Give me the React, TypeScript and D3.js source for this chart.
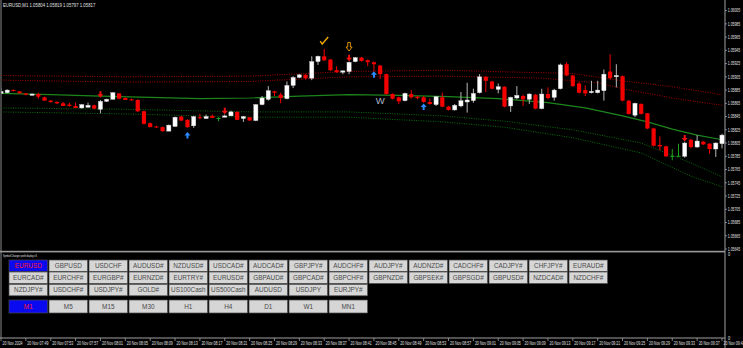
import React from 'react';
import * as d3 from 'd3';

// ---------- DATA ----------
const headerText = 'EURUSD,M1  1.05804 1.05819 1.05797 1.05817';

const opens = [
  1.05880, 1.05881, 1.05885, 1.05883, 1.05880, 1.05877, 1.05879, 1.05874, 1.05869, 1.05867,
  1.05865, 1.05863, 1.05861, 1.05858, 1.05859, 1.05862, 1.05856, 1.05868, 1.05871, 1.05880,
  1.05873, 1.05871, 1.05870, 1.05853, 1.05835, 1.05830, 1.05829, 1.05823, 1.05830, 1.05845,
  1.05840, 1.05831, 1.05844, 1.05842, 1.05846, 1.05842, 1.05844, 1.05846, 1.05852, 1.05842,
  1.05844, 1.05839, 1.05863, 1.05871, 1.05883, 1.05878, 1.05872, 1.05892, 1.05904, 1.05908,
  1.05903, 1.05928, 1.05936, 1.05931, 1.05915, 1.05912, 1.05913, 1.05928, 1.05934, 1.05930,
  1.05927, 1.05922, 1.05909, 1.05879, 1.05874, 1.05869, 1.05879, 1.05875, 1.05874, 1.05867,
  1.05863, 1.05874, 1.05860, 1.05855, 1.05861, 1.05867, 1.05869, 1.05881, 1.05905, 1.05898,
  1.05886, 1.05890, 1.05861, 1.05873, 1.05876, 1.05871, 1.05878, 1.05857, 1.05879, 1.05874,
  1.05887, 1.05924, 1.05907, 1.05895, 1.05885, 1.05881, 1.05881, 1.05884, 1.05913, 1.05905,
  1.05906, 1.05869, 1.05847, 1.05864, 1.05850, 1.05827, 1.05802, 1.05800, 1.05785, 1.05785,
  1.05785, 1.05810, 1.05799, 1.05807, 1.05804, 1.05796, 1.05804,
];
const highs = [
  1.05888, 1.05886, 1.05886, 1.05883, 1.05880, 1.05880, 1.05881, 1.05875, 1.05870, 1.05868,
  1.05867, 1.05866, 1.05866, 1.05864, 1.05866, 1.05863, 1.05870, 1.05872, 1.05882, 1.05880,
  1.05874, 1.05872, 1.05871, 1.05854, 1.05836, 1.05831, 1.05830, 1.05833, 1.05845, 1.05846,
  1.05841, 1.05846, 1.05849, 1.05848, 1.05848, 1.05844, 1.05848, 1.05854, 1.05853, 1.05846,
  1.05844, 1.05864, 1.05876, 1.05891, 1.05884, 1.05881, 1.05898, 1.05906, 1.05909, 1.05909,
  1.05936, 1.05937, 1.05947, 1.05932, 1.05921, 1.05915, 1.05928, 1.05935, 1.05935, 1.05931,
  1.05928, 1.05923, 1.05910, 1.05880, 1.05875, 1.05881, 1.05885, 1.05876, 1.05876, 1.05872,
  1.05876, 1.05881, 1.05861, 1.05864, 1.05882, 1.05896, 1.05887, 1.05909, 1.05906, 1.05899,
  1.05895, 1.05891, 1.05875, 1.05891, 1.05878, 1.05880, 1.05879, 1.05887, 1.05889, 1.05887,
  1.05925, 1.05927, 1.05908, 1.05897, 1.05892, 1.05899, 1.05899, 1.05916, 1.05939, 1.05924,
  1.05907, 1.05870, 1.05866, 1.05865, 1.05850, 1.05828, 1.05815, 1.05801, 1.05796, 1.05804,
  1.05807, 1.05811, 1.05817, 1.05808, 1.05805, 1.05806, 1.05819,
];
const lows = [
  1.05879, 1.05880, 1.05883, 1.05880, 1.05877, 1.05877, 1.05872, 1.05869, 1.05866, 1.05864,
  1.05861, 1.05860, 1.05858, 1.05857, 1.05859, 1.05856, 1.05850, 1.05867, 1.05871, 1.05871,
  1.05870, 1.05869, 1.05852, 1.05833, 1.05829, 1.05828, 1.05822, 1.05823, 1.05830, 1.05838,
  1.05828, 1.05828, 1.05841, 1.05842, 1.05843, 1.05838, 1.05844, 1.05846, 1.05840, 1.05837,
  1.05839, 1.05838, 1.05862, 1.05869, 1.05876, 1.05865, 1.05871, 1.05888, 1.05903, 1.05901,
  1.05900, 1.05923, 1.05929, 1.05914, 1.05911, 1.05909, 1.05909, 1.05927, 1.05928, 1.05921,
  1.05913, 1.05902, 1.05878, 1.05871, 1.05864, 1.05868, 1.05872, 1.05871, 1.05866, 1.05863,
  1.05861, 1.05859, 1.05854, 1.05854, 1.05859, 1.05851, 1.05866, 1.05880, 1.05882, 1.05886,
  1.05880, 1.05859, 1.05852, 1.05871, 1.05861, 1.05864, 1.05856, 1.05856, 1.05871, 1.05869,
  1.05886, 1.05906, 1.05890, 1.05880, 1.05876, 1.05880, 1.05880, 1.05869, 1.05901, 1.05889,
  1.05868, 1.05848, 1.05844, 1.05848, 1.05826, 1.05800, 1.05794, 1.05784, 1.05779, 1.05785,
  1.05783, 1.05797, 1.05798, 1.05802, 1.05789, 1.05784, 1.05797,
];
const closes = [
  1.05883, 1.05885, 1.05884, 1.05880, 1.05878, 1.05879, 1.05875, 1.05869, 1.05867, 1.05865,
  1.05861, 1.05861, 1.05858, 1.05863, 1.05862, 1.05857, 1.05868, 1.05871, 1.05881, 1.05872,
  1.05870, 1.05870, 1.05853, 1.05834, 1.05829, 1.05829, 1.05823, 1.05832, 1.05844, 1.05839,
  1.05829, 1.05845, 1.05843, 1.05845, 1.05843, 1.05842, 1.05846, 1.05852, 1.05840, 1.05845,
  1.05839, 1.05863, 1.05873, 1.05884, 1.05881, 1.05873, 1.05892, 1.05904, 1.05908, 1.05903,
  1.05928, 1.05936, 1.05930, 1.05915, 1.05912, 1.05914, 1.05927, 1.05934, 1.05929, 1.05927,
  1.05924, 1.05909, 1.05879, 1.05872, 1.05868, 1.05880, 1.05874, 1.05873, 1.05867, 1.05864,
  1.05875, 1.05860, 1.05855, 1.05862, 1.05869, 1.05870, 1.05880, 1.05905, 1.05899, 1.05887,
  1.05890, 1.05860, 1.05874, 1.05877, 1.05871, 1.05879, 1.05857, 1.05879, 1.05873, 1.05885,
  1.05923, 1.05907, 1.05891, 1.05881, 1.05880, 1.05883, 1.05885, 1.05909, 1.05903, 1.05907,
  1.05869, 1.05849, 1.05865, 1.05849, 1.05827, 1.05801, 1.05800, 1.05785, 1.05785, 1.05785,
  1.05805, 1.05799, 1.05808, 1.05803, 1.05796, 1.05805, 1.05817,
];

// moving average (solid green) and envelope bands
const maBars = [0, 8, 16, 24, 32, 40, 48, 56, 64, 72, 80, 88, 94, 100, 104, 108, 112, 116];
const maVals = [1.05880, 1.05878, 1.05876, 1.05874, 1.05872, 1.05873, 1.05876, 1.05878, 1.05877, 1.05875, 1.05872, 1.05866, 1.05858, 1.05846, 1.05837, 1.05826, 1.05817, 1.05810];
const redUpperBars = [0, 20, 40, 56, 71, 92, 100, 108, 116];
const redUpperVals = [1.05907, 1.05905, 1.05906, 1.05913, 1.05915, 1.05910, 1.05899, 1.05890, 1.05878];
const redLowerBars = [0, 20, 40, 56, 71, 87, 96, 100, 108, 116];
const redLowerVals = [1.05900, 1.05897, 1.05898, 1.05905, 1.05906, 1.05903, 1.05896, 1.05887, 1.05873, 1.05862];
const greenUpperBars = [0, 20, 40, 56, 71, 81, 92, 103, 111, 116];
const greenUpperVals = [1.05858, 1.05856, 1.05852, 1.05852, 1.05846, 1.05838, 1.05825, 1.05805, 1.05775, 1.05754];
const greenLowerBars = [0, 20, 40, 56, 71, 81, 92, 103, 111, 116];
const greenLowerVals = [1.05852, 1.05849, 1.05844, 1.05844, 1.05837, 1.05829, 1.05813, 1.05790, 1.05755, 1.05739];

// signals
const sellBars = [16, 36, 56, 110];
const sellVals = [1.05878, 1.05853, 1.05933, 1.05812];
const buyBars = [30, 60, 68];
const buyVals = [1.05817, 1.05909, 1.05860];
const checkBar = 52, checkVal = 1.05959;
const hollowBar = 56, hollowVal = 1.05950;
const wBar = 61, wVal = 1.05869;

const priceTicks = [1.06005, 1.05985, 1.05965, 1.05945, 1.05925, 1.05905, 1.05885, 1.05865, 1.05845, 1.05825,
  1.05805, 1.05785, 1.05765, 1.05745, 1.05725, 1.05705, 1.05685, 1.05665, 1.05645];
const timeLabels = ['20 Nov 2024', '20 Nov 07:49', '20 Nov 07:53', '20 Nov 07:57', '20 Nov 08:01', '20 Nov 08:05',
  '20 Nov 08:09', '20 Nov 08:13', '20 Nov 08:17', '20 Nov 08:21', '20 Nov 08:25', '20 Nov 08:29', '20 Nov 08:33',
  '20 Nov 08:37', '20 Nov 08:41', '20 Nov 08:45', '20 Nov 08:49', '20 Nov 08:53', '20 Nov 08:57', '20 Nov 09:01',
  '20 Nov 09:05', '20 Nov 09:09', '20 Nov 09:13', '20 Nov 09:17', '20 Nov 09:21', '20 Nov 09:25', '20 Nov 09:29',
  '20 Nov 09:33', '20 Nov 09:37', '20 Nov 09:41'];
const timeLabelBars = timeLabels.map((_, k) => k * 4);

const symbolRow1 = ['EURUSD', 'GBPUSD', 'USDCHF', 'AUDUSD#', 'NZDUSD#', 'USDCAD#', 'AUDCAD#', 'GBPJPY#', 'AUDCHF#', 'AUDJPY#', 'AUDNZD#', 'CADCHF#', 'CADJPY#', 'CHFJPY#', 'EURAUD#'];
const symbolRow2 = ['EURCAD#', 'EURCHF#', 'EURGBP#', 'EURNZD#', 'EURTRY#', 'EURUSD#', 'GBPAUD#', 'GBPCAD#', 'GBPCHF#', 'GBPNZD#', 'GBPSEK#', 'GBPSGD#', 'GBPUSD#', 'NZDCAD#', 'NZDCHF#'];
const symbolRow3 = ['NZDJPY#', 'USDCHF#', 'USDJPY#', 'GOLD#', 'US100Cash', 'US500Cash', 'AUDUSD', 'USDJPY', 'EURJPY#'];
const timeframes = ['M1', 'M5', 'M15', 'M30', 'H1', 'H4', 'D1', 'W1', 'MN1'];
const activeSymbol = 'EURUSD';
const activeTf = 'M1';

// ---------- LAYOUT ----------
const W = 743, H = 348;
const AXIS_X = 725;
const SEP_Y = 251.5;
const BOTTOM_Y = 338;
const FONT = '"Liberation Sans", Arial, sans-serif';

const x = d3.scaleLinear().domain([0, 116]).range([1, 722]);
const y = d3.scaleLinear().domain([1.06005, 1.05645]).range([10.6, 249]);

function bandPath(bars: number[], vals: number[]) {
  const line = d3.line<number>().x((_, i) => x(bars[i])).y((v) => y(v));
  return line(vals) || '';
}

// horizontally condensed small text (MT4 uses a narrow tiny font)
function NarrowText({ tx, ty, size, sx, children }: { tx: number; ty: number; size: number; sx: number; children: string }) {
  return (
    <text transform={`translate(${tx},${ty}) scale(${sx},1)`} fontFamily={FONT} fontSize={size} fill="#e0e0e0">{children}</text>
  );
}

function Button({ bx, by, w, h, label, active }: { bx: number; by: number; w: number; h: number; label: string; active: boolean }) {
  return (
    <g>
      <rect x={bx} y={by} width={w} height={h} fill={active ? '#0a0af0' : '#d6d6d6'} stroke="#4a4a4a" strokeWidth={0.7} />
      <text x={bx + w / 2} y={by + h / 2 + 2.2} textAnchor="middle" fontFamily={FONT} fontSize={6.4}
        fill={active ? '#ff1a1a' : '#4a4a4a'}>{label}</text>
    </g>
  );
}

export default function App() {
  const bw = 4.2;
  const candles = opens.map((o, i) => {
    const c = closes[i], hi = highs[i], lo = lows[i];
    const cx = x(i);
    const doji = o === c;
    const bull = c > o;
    const col = doji ? '#1fa51f' : bull ? '#b8b8b8' : '#f50000';
    const top = y(Math.max(o, c)), bot = y(Math.min(o, c));
    return (
      <g key={i}>
        <line x1={cx} x2={cx} y1={y(hi)} y2={y(lo)} stroke={col} strokeWidth={1} />
        {doji ? (
          <line x1={cx - bw / 2} x2={cx + bw / 2} y1={top} y2={top} stroke={col} strokeWidth={1} />
        ) : (
          <rect x={cx - bw / 2} y={top} width={bw} height={Math.max(1, bot - top)}
            fill={bull ? '#ffffff' : '#f50000'} stroke={bull ? '#cfcfcf' : 'none'} strokeWidth={0.4} />
        )}
      </g>
    );
  });

  const bw2 = 38.6, pitch = 40, bx0 = 9;
  const rowsY = [260, 272, 284.3];
  const rowH = 11.5;

  return (
    <div style={{ position: 'fixed', left: 0, top: 0, width: W, height: H, background: '#000' }}>
      <svg width={W} height={H} style={{ display: 'block' }}>
        <rect x={0} y={0} width={W} height={H} fill="#000" />
        <defs>
          <clipPath id="plot"><rect x={1.5} y={0} width={AXIS_X - 1.5} height={SEP_Y} /></clipPath>
        </defs>

        {/* frame */}
        <line x1={1} x2={1} y1={0} y2={BOTTOM_Y} stroke="#8a8a8a" strokeWidth={1} />
        <line x1={AXIS_X} x2={AXIS_X} y1={0} y2={H} stroke="#a0a0a0" strokeWidth={1} />
        <line x1={0} x2={AXIS_X} y1={BOTTOM_Y} y2={BOTTOM_Y} stroke="#a0a0a0" strokeWidth={1} />
        <rect x={0} y={SEP_Y - 0.7} width={AXIS_X} height={1.6} fill="#9a9a9a" />

        <NarrowText tx={3} ty={7} size={4.8} sx={0.9}>{headerText}</NarrowText>

        <g clipPath="url(#plot)">
          <path d={bandPath(redUpperBars, redUpperVals)} fill="none" stroke="#a30000" strokeWidth={1} strokeDasharray="1 1.4" />
          <path d={bandPath(redLowerBars, redLowerVals)} fill="none" stroke="#a30000" strokeWidth={1} strokeDasharray="1 1.4" />
          <path d={bandPath(greenUpperBars, greenUpperVals)} fill="none" stroke="#0a6e0a" strokeWidth={1} strokeDasharray="1 1.4" />
          <path d={bandPath(greenLowerBars, greenLowerVals)} fill="none" stroke="#0a6e0a" strokeWidth={1} strokeDasharray="1 1.4" />
          <path d={bandPath(maBars, maVals)} fill="none" stroke="#1c861c" strokeWidth={1.2} />
          {candles}

          {sellBars.map((b, i) => {
            const cx = x(b), cy = y(sellVals[i]);
            return <polygon key={'s' + i} fill="#f01010"
              points={`${cx - 1},${cy - 3.5} ${cx + 1},${cy - 3.5} ${cx + 1},${cy - 0.5} ${cx + 3},${cy - 0.5} ${cx},${cy + 3} ${cx - 3},${cy - 0.5} ${cx - 1},${cy - 0.5}`} />;
          })}
          {buyBars.map((b, i) => {
            const cx = x(b), cy = y(buyVals[i]);
            return <polygon key={'b' + i} fill="#2a8cff"
              points={`${cx - 1},${cy + 3.5} ${cx + 1},${cy + 3.5} ${cx + 1},${cy + 0.5} ${cx + 3},${cy + 0.5} ${cx},${cy - 3} ${cx - 3},${cy + 0.5} ${cx - 1},${cy + 0.5}`} />;
          })}
          {(() => {
            const cx = x(checkBar), cy = y(checkVal);
            return <path d={`M${cx - 4},${cy} L${cx - 2},${cy + 3} L${cx + 4},${cy - 4}`} fill="none" stroke="#f0a800" strokeWidth={1.4} />;
          })()}
          {(() => {
            const cx = x(hollowBar), cy = y(hollowVal);
            return <path d={`M${cx - 1.3},${cy - 4.5} L${cx + 1.3},${cy - 4.5} L${cx + 1.3},${cy} L${cx + 3},${cy} L${cx},${cy + 4} L${cx - 3},${cy} L${cx - 1.3},${cy} Z`}
              fill="none" stroke="#f0a000" strokeWidth={0.9} />;
          })()}
          <text x={x(wBar)} y={y(wVal) + 3.5} textAnchor="middle" fontFamily={FONT} fontSize={9.5} fill="#aab4c4">W</text>
        </g>

        {/* price axis */}
        {priceTicks.map((p) => (
          <g key={p}>
            <line x1={AXIS_X} x2={AXIS_X + 2} y1={y(p)} y2={y(p)} stroke="#a0a0a0" strokeWidth={0.8} />
            <NarrowText tx={AXIS_X + 2.8} ty={y(p) + 1.8} size={5.2} sx={0.66}>{p.toFixed(5)}</NarrowText>
          </g>
        ))}
        <NarrowText tx={AXIS_X + 3} ty={255.5} size={5} sx={0.8}>0</NarrowText>
        <NarrowText tx={AXIS_X + 3} ty={339.5} size={5} sx={0.8}>0</NarrowText>

        {/* time axis */}
        {timeLabels.map((t, k) => {
          const tx = x(timeLabelBars[k]);
          return (
            <g key={t}>
              <line x1={tx} x2={tx} y1={BOTTOM_Y} y2={BOTTOM_Y + 3} stroke="#a0a0a0" strokeWidth={0.8} />
              <NarrowText tx={tx + 1.5} ty={BOTTOM_Y + 6.8} size={5} sx={0.71}>{t}</NarrowText>
            </g>
          );
        })}

        {/* panel */}
        <NarrowText tx={3} ty={257} size={4.2} sx={0.55}>Symbol Changer profit display v3</NarrowText>
        {[symbolRow1, symbolRow2, symbolRow3].map((row, r) => row.map((s, c) => (
          <Button key={`r${r}c${c}`} bx={bx0 + pitch * c} by={rowsY[r]} w={bw2} h={rowH} label={s}
            active={r === 0 && s === activeSymbol} />
        )))}
        {timeframes.map((tf, c) => (
          <Button key={tf} bx={bx0 + pitch * c} by={300} w={bw2} h={13} label={tf} active={tf === activeTf} />
        ))}
      </svg>
    </div>
  );
}
